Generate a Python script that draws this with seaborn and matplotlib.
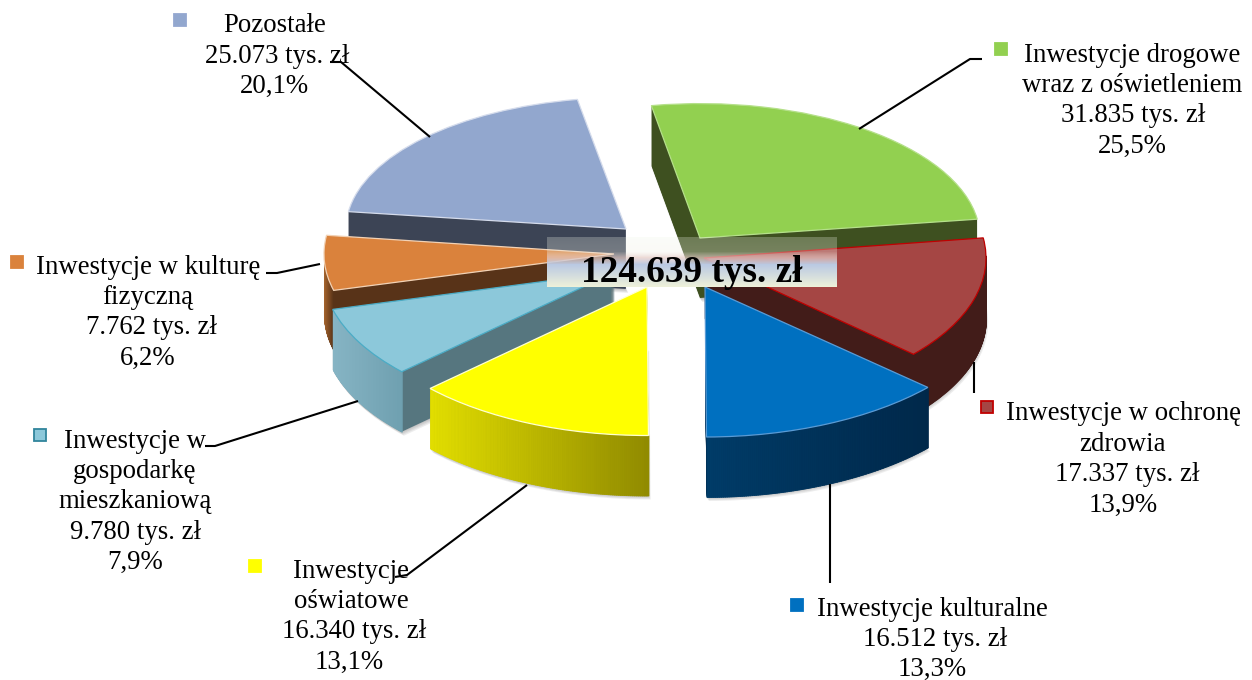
import numpy as np
import matplotlib
matplotlib.use("Agg")
import matplotlib.pyplot as plt
from matplotlib.patches import Wedge, Rectangle
from matplotlib.transforms import Affine2D
import seaborn as sns

# ---- data ----
categories = ["Inwestycje drogowe\nwraz z oświetleniem", "Inwestycje w ochronę\nzdrowia",
              "Inwestycje kulturalne", "Inwestycje\noświatowe",
              "Inwestycje w\ngospodarkę\nmieszkaniową", "Inwestycje w kulturę\nfizyczną", "Pozostałe"]
values = [31835, 17337, 16512, 16340, 9780, 7762, 25073]
value_labels = ["31.835 tys. zł", "17.337 tys. zł", "16.512 tys. zł", "16.340 tys. zł",
                "9.780 tys. zł", "7.762 tys. zł", "25.073 tys. zł"]
share_labels = ["25,5%", "13,9%", "13,3%", "13,1%", "7,9%", "6,2%", "20,1%"]
total_label = "124.639 tys. zł"

# ---- styles / layout (pixel space of the 1252x680 canvas) ----
top_colors = ["#92D050", "#A54644", "#0070C0", "#FFFF00", "#8CC8DA", "#DA823C", "#92A7CE"]
edge_colors = ["#B5E08A", "#C00000", "#5A9BD5", "#FFFFD0", "#4BACC6", "#F2D2B5", "#D5DCEC"]
wall_colors = ["#3E5020", "#421C19", "#002A4C", "#8F8F00", "#56767F", "#583318", "#3C4455"]
arc_left = ["#3E5020", "#421C19", "#003C68", "#E2DE00", "#86B4C4", "#A8662E", "#3C4455"]
arc_right = ["#3E5020", "#421C19", "#00284A", "#908A00", "#6FA0B0", "#583318", "#3C4455"]
tip_x = [700, 704, 705, 647, 615, 614, 626]
tip_y = [238, 258, 287, 287, 272, 254, 229]
radius = [280, 282, 300, 297, 292, 290, 280]
squash = [0.48, 0.51, 0.50, 0.50, 0.50, 0.49, 0.47]
draw_order = [6, 0, 1, 5, 4, 2, 3]
depth, start_angle = 60, 100

sns.set_theme(style="white")
plt.rcParams["font.family"] = ["Liberation Serif", "DejaVu Serif"]
W, H = 1252, 680
fig = plt.figure(figsize=(W / 100, H / 100), dpi=100, facecolor="white")
ax = fig.add_axes([0, 0, 1, 1])

z = 1
for i in draw_order:
    q = squash[i]
    tf = Affine2D().scale(1, q) + ax.transData
    cx, cy, r = tip_x[i], (H - tip_y[i]) / q, radius[i]
    wedges, _ = ax.pie(values, startangle=start_angle, counterclock=False, radius=r,
                       center=(cx, cy), colors=top_colors,
                       wedgeprops=dict(edgecolor=edge_colors[i], linewidth=0.9))
    face = wedges[i]
    for j, w in enumerate(wedges):
        if j != i:
            w.remove()
    face.set_transform(tf)
    th1, th2 = face.theta1, face.theta2
    # soft shadow under the slice
    for k in range(1, 5):
        ax.add_patch(Wedge((cx + k * 0.8 - 1, cy - (depth + k) / q), r, th1, th2, fc="#555555",
                           ec="none", alpha=0.10, zorder=z, transform=tf))
    z += 1
    # extruded body
    for d in range(depth, 0, -1):
        ax.add_patch(Wedge((cx, cy - d / q), r, th1, th2, fc=wall_colors[i], ec="none",
                           zorder=z, transform=tf))
    z += 1
    # outer wall with a horizontal gradient
    ang = np.radians(np.linspace(th1, th2, 121))
    ang = ang[np.sin(ang) <= 0.02]
    if len(ang) > 1:
        xs = cx + r * np.cos(ang)
        ys = cy + r * np.sin(ang)
        pal = sns.blend_palette([arc_left[i], arc_right[i]], 64)
        x0, x1 = xs.min(), xs.max()
        for a in range(len(ang) - 1):
            c = pal[int(63 * ((xs[a] + xs[a + 1]) / 2 - x0) / max(x1 - x0, 1))]
            ax.fill_between(xs[a:a + 2], ys[a:a + 2] - depth / q, ys[a:a + 2], color=c,
                            lw=0.6, zorder=z, transform=tf)
    z += 1
    face.set_zorder(z)
    z += 1

ax.set_aspect("auto")
ax.set_xlim(0, W)
ax.set_ylim(0, H)
ax.axis("off")

# ---- overlay in pixel coordinates ----
ov = fig.add_axes([0, 0, 1, 1], facecolor="none")
ov.set_xlim(0, W)
ov.set_ylim(H, 0)
ov.axis("off")

# centre caption box
rows = np.zeros((50, 1, 4))
stops_y = [0, 14, 20, 27, 50]
stops_c = [(.94, .96, .91, .27), (.94, .94, .90, .32), (.90, .80, .78, .72), (.73, .79, .89, 1), (.94, .95, .85, 1)]
for ch in range(4):
    rows[:, 0, ch] = np.interp(np.arange(50), stops_y, [c[ch] for c in stops_c])
ov.imshow(rows, extent=(547, 837, 287, 237), aspect="auto", zorder=5)
ov.set_xlim(0, W)
ov.set_ylim(H, 0)
ov.text(692, 273, total_label, fontsize=26.8, fontweight="bold", ha="center", va="center",
        color="black", zorder=6)

# leader lines
leaders_x = [[859, 970, 982], [974, 974], [830, 830], [527, 407, 395], [358, 215, 205], [320, 277, 266], [430, 341, 330]]
leaders_y = [[129, 59, 59], [362, 393], [484, 583], [485, 575, 577], [401, 446, 446], [264, 273, 273], [137, 62, 62]]
for lx, ly in zip(leaders_x, leaders_y):
    ov.plot(lx, ly, color="black", lw=1.5, zorder=4, solid_capstyle="butt")

# labels
label_x = [1132, 1123, 932, 351, 135, 148, 275]
label_top = [52, 411, 606, 568, 438, 264, 23]
value_dx = [1, 4, 3, 3, 1, 4, 2]
share_dx = [0, 0, 0, -2, 0, 0, -1]
marker_x = [1001, 987, 797, 255, 40, 17, 180]
marker_y = [49, 407, 605, 566, 435, 262, 20]
marker_edge = ["#92D050", "#C00000", "#0070C0", "#FFFF00", "#31859C", "#DA823C", "#94A7D0"]
line_h = 30.4
for i in range(7):
    names = categories[i].split("\n")
    lines = names + [value_labels[i], share_labels[i]]
    for n, t in enumerate(lines):
        dx = value_dx[i] if n == len(names) else share_dx[i] if n == len(names) + 1 else 0
        ov.text(label_x[i] + dx, label_top[i] + n * line_h, t, fontsize=19.3, ha="center",
                va="center_baseline", color="black", zorder=7)
    ov.add_patch(Rectangle((marker_x[i] - 6, marker_y[i] - 6), 12, 12, fc=top_colors[i],
                           ec=marker_edge[i], lw=1.3, zorder=7))

fig.savefig("out.png", dpi=100)
